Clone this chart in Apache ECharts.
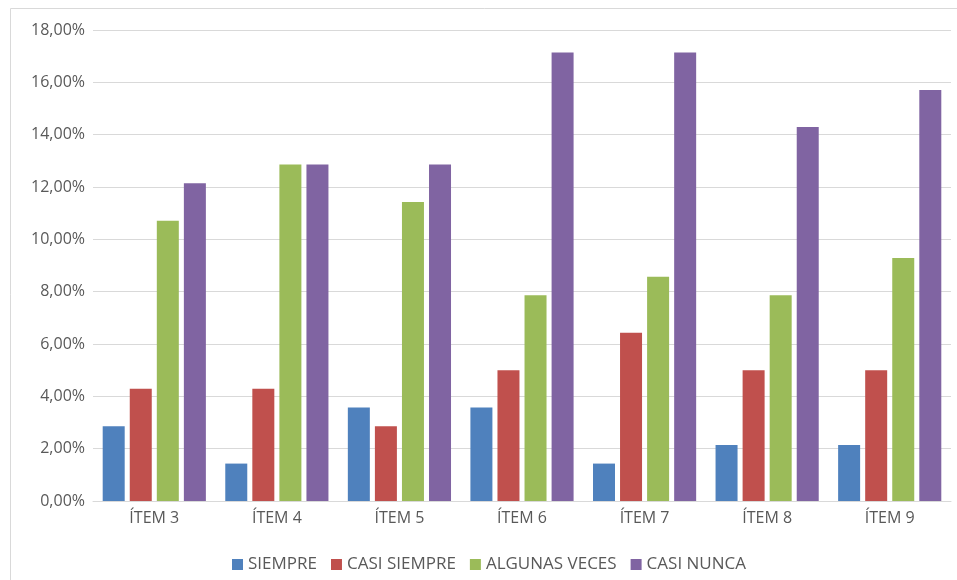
<!DOCTYPE html>
<html>
<head>
<meta charset="utf-8">
<script src="https://cdn.jsdelivr.net/npm/echarts@6/dist/echarts.min.js"></script>
<style>
  html, body { margin: 0; padding: 0; background: #fff; }
  #chart { width: 957px; height: 580px; }
</style>
</head>
<body>
<div id="chart"></div>
<script>
// categorías e índices (porcentaje)
const items = ['ÍTEM 3', 'ÍTEM 4', 'ÍTEM 5', 'ÍTEM 6', 'ÍTEM 7', 'ÍTEM 8', 'ÍTEM 9']
const siempre = [2.86, 1.43, 3.57, 3.57, 1.43, 2.14, 2.14]
const casiSiempre = [4.29, 4.29, 2.86, 5.00, 6.43, 5.00, 5.00]
const algunasVeces = [10.71, 12.86, 11.43, 7.86, 8.57, 7.86, 9.29]
const casiNunca = [12.14, 12.86, 12.86, 17.14, 17.14, 14.29, 15.71]

const textColor = '#595959'
const font = 'Open Sans, Liberation Sans, sans-serif'

const chart = echarts.init(document.getElementById('chart'))

const mkSeries = (name, data, color) => ({
  name,
  type: 'bar',
  data,
  barWidth: 22,
  barGap: '23%',
  itemStyle: { color }
})

chart.setOption({
  animation: false,
  textStyle: { fontFamily: font },
  graphic: [
    {
      type: 'rect',
      shape: { x: 10.5, y: 8.5, width: 960, height: 600 },
      style: { fill: 'none', stroke: '#d9d9d9', lineWidth: 1 },
      silent: true
    }
  ],
  grid: { left: 93, right: 6, top: 30, bottom: 79 },
  legend: {
    bottom: 2,
    left: 227,
    itemWidth: 11,
    itemHeight: 11,
    itemGap: 14,
    icon: 'rect',
    textStyle: { color: textColor, fontSize: 17, fontFamily: font }
  },
  xAxis: {
    type: 'category',
    data: items,
    axisLine: { lineStyle: { color: '#d9d9d9', width: 1 } },
    axisTick: { show: false },
    axisLabel: { color: textColor, fontSize: 16, margin: 9, fontFamily: font }
  },
  yAxis: {
    type: 'value',
    min: 0,
    max: 18,
    interval: 2,
    axisLine: { show: false },
    axisTick: { show: false },
    splitLine: { lineStyle: { color: '#d9d9d9', width: 1 } },
    axisLabel: {
      color: textColor,
      fontSize: 16,
      margin: 8,
      fontFamily: font,
      formatter: (v) => v.toFixed(2).replace('.', ',') + '%'
    }
  },
  series: [
    mkSeries('SIEMPRE', siempre, '#4F81BD'),
    mkSeries('CASI SIEMPRE', casiSiempre, '#C0504D'),
    mkSeries('ALGUNAS VECES', algunasVeces, '#9BBB59'),
    mkSeries('CASI NUNCA', casiNunca, '#8064A2')
  ]
})
</script>
</body>
</html>
